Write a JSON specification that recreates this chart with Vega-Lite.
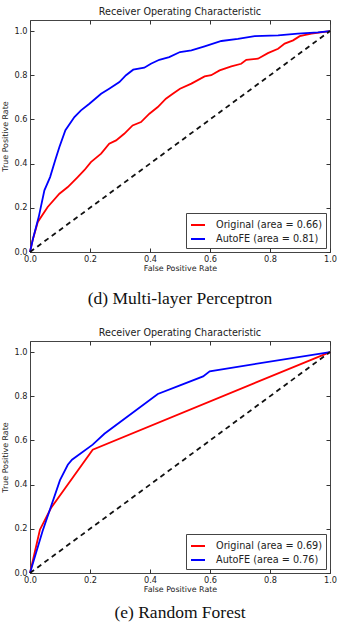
{
  "$schema": "https://vega.github.io/schema/vega-lite/v6.json",
  "background": "white",
  "padding": {"left": 1, "top": 6, "right": 0, "bottom": 0},
  "spacing": 0,
  "config": {
    "font": "DejaVu Sans",
    "view": {"stroke": "#444", "strokeWidth": 1},
    "axis": {
      "grid": false,
      "domain": false,
      "labelFont": "DejaVu Sans",
      "labelFontSize": 8.2,
      "labelColor": "#222",
      "labelFlush": false,
      "labelOverlap": false,
      "labelPadding": 7,
      "tickColor": "#333",
      "tickSize": -4,
      "tickWidth": 1,
      "titleFont": "DejaVu Sans",
      "titleFontSize": 7.9,
      "titleFontWeight": "normal",
      "titleColor": "#222"
    },
    "title": {"font": "DejaVu Sans", "fontSize": 9.6, "fontWeight": "normal", "color": "#222", "offset": 3},
    "legend": {
      "orient": "bottom-right",
      "offset": 4,
      "padding": 4,
      "strokeColor": "#444",
      "fillColor": "white",
      "cornerRadius": 0,
      "labelFont": "DejaVu Sans",
      "labelFontSize": 9.7,
      "labelColor": "#222",
      "labelOffset": 10,
      "symbolType": "stroke",
      "symbolStrokeWidth": 2,
      "symbolSize": 196,
      "rowPadding": 1
    }
  },
  "datasets": {
    "mlp": [
      {"label": "Original (area = 0.66)", "i": 0, "fpr": 0, "tpr": 0},
      {"label": "Original (area = 0.66)", "i": 1, "fpr": 0.008, "tpr": 0.05},
      {"label": "Original (area = 0.66)", "i": 2, "fpr": 0.026, "tpr": 0.136},
      {"label": "Original (area = 0.66)", "i": 3, "fpr": 0.059, "tpr": 0.204},
      {"label": "Original (area = 0.66)", "i": 4, "fpr": 0.098, "tpr": 0.264},
      {"label": "Original (area = 0.66)", "i": 5, "fpr": 0.126, "tpr": 0.294},
      {"label": "Original (area = 0.66)", "i": 6, "fpr": 0.159, "tpr": 0.339},
      {"label": "Original (area = 0.66)", "i": 7, "fpr": 0.181, "tpr": 0.37},
      {"label": "Original (area = 0.66)", "i": 8, "fpr": 0.203, "tpr": 0.407},
      {"label": "Original (area = 0.66)", "i": 9, "fpr": 0.237, "tpr": 0.445},
      {"label": "Original (area = 0.66)", "i": 10, "fpr": 0.264, "tpr": 0.49},
      {"label": "Original (area = 0.66)", "i": 11, "fpr": 0.287, "tpr": 0.505},
      {"label": "Original (area = 0.66)", "i": 12, "fpr": 0.314, "tpr": 0.535},
      {"label": "Original (area = 0.66)", "i": 13, "fpr": 0.342, "tpr": 0.573},
      {"label": "Original (area = 0.66)", "i": 14, "fpr": 0.37, "tpr": 0.588},
      {"label": "Original (area = 0.66)", "i": 15, "fpr": 0.398, "tpr": 0.626},
      {"label": "Original (area = 0.66)", "i": 16, "fpr": 0.426, "tpr": 0.656},
      {"label": "Original (area = 0.66)", "i": 17, "fpr": 0.453, "tpr": 0.694},
      {"label": "Original (area = 0.66)", "i": 18, "fpr": 0.476, "tpr": 0.716},
      {"label": "Original (area = 0.66)", "i": 19, "fpr": 0.5, "tpr": 0.739},
      {"label": "Original (area = 0.66)", "i": 20, "fpr": 0.538, "tpr": 0.762},
      {"label": "Original (area = 0.66)", "i": 21, "fpr": 0.582, "tpr": 0.795},
      {"label": "Original (area = 0.66)", "i": 22, "fpr": 0.604, "tpr": 0.8},
      {"label": "Original (area = 0.66)", "i": 23, "fpr": 0.632, "tpr": 0.822},
      {"label": "Original (area = 0.66)", "i": 24, "fpr": 0.671, "tpr": 0.84},
      {"label": "Original (area = 0.66)", "i": 25, "fpr": 0.704, "tpr": 0.852},
      {"label": "Original (area = 0.66)", "i": 26, "fpr": 0.721, "tpr": 0.87},
      {"label": "Original (area = 0.66)", "i": 27, "fpr": 0.76, "tpr": 0.875},
      {"label": "Original (area = 0.66)", "i": 28, "fpr": 0.793, "tpr": 0.9},
      {"label": "Original (area = 0.66)", "i": 29, "fpr": 0.827, "tpr": 0.92},
      {"label": "Original (area = 0.66)", "i": 30, "fpr": 0.849, "tpr": 0.943},
      {"label": "Original (area = 0.66)", "i": 31, "fpr": 0.877, "tpr": 0.958},
      {"label": "Original (area = 0.66)", "i": 32, "fpr": 0.899, "tpr": 0.977},
      {"label": "Original (area = 0.66)", "i": 33, "fpr": 0.938, "tpr": 0.988},
      {"label": "Original (area = 0.66)", "i": 34, "fpr": 1, "tpr": 1},
      {"label": "AutoFE (area = 0.81)", "i": 0, "fpr": 0, "tpr": 0},
      {"label": "AutoFE (area = 0.81)", "i": 1, "fpr": 0.01, "tpr": 0.06},
      {"label": "AutoFE (area = 0.81)", "i": 2, "fpr": 0.029, "tpr": 0.158},
      {"label": "AutoFE (area = 0.81)", "i": 3, "fpr": 0.048, "tpr": 0.279},
      {"label": "AutoFE (area = 0.81)", "i": 4, "fpr": 0.067, "tpr": 0.339},
      {"label": "AutoFE (area = 0.81)", "i": 5, "fpr": 0.084, "tpr": 0.415},
      {"label": "AutoFE (area = 0.81)", "i": 6, "fpr": 0.098, "tpr": 0.475},
      {"label": "AutoFE (area = 0.81)", "i": 7, "fpr": 0.118, "tpr": 0.551},
      {"label": "AutoFE (area = 0.81)", "i": 8, "fpr": 0.148, "tpr": 0.611},
      {"label": "AutoFE (area = 0.81)", "i": 9, "fpr": 0.17, "tpr": 0.641},
      {"label": "AutoFE (area = 0.81)", "i": 10, "fpr": 0.198, "tpr": 0.671},
      {"label": "AutoFE (area = 0.81)", "i": 11, "fpr": 0.237, "tpr": 0.716},
      {"label": "AutoFE (area = 0.81)", "i": 12, "fpr": 0.264, "tpr": 0.739},
      {"label": "AutoFE (area = 0.81)", "i": 13, "fpr": 0.298, "tpr": 0.769},
      {"label": "AutoFE (area = 0.81)", "i": 14, "fpr": 0.32, "tpr": 0.8},
      {"label": "AutoFE (area = 0.81)", "i": 15, "fpr": 0.344, "tpr": 0.825},
      {"label": "AutoFE (area = 0.81)", "i": 16, "fpr": 0.381, "tpr": 0.834},
      {"label": "AutoFE (area = 0.81)", "i": 17, "fpr": 0.403, "tpr": 0.852},
      {"label": "AutoFE (area = 0.81)", "i": 18, "fpr": 0.431, "tpr": 0.87},
      {"label": "AutoFE (area = 0.81)", "i": 19, "fpr": 0.464, "tpr": 0.882},
      {"label": "AutoFE (area = 0.81)", "i": 20, "fpr": 0.5, "tpr": 0.905},
      {"label": "AutoFE (area = 0.81)", "i": 21, "fpr": 0.538, "tpr": 0.913},
      {"label": "AutoFE (area = 0.81)", "i": 22, "fpr": 0.582, "tpr": 0.931},
      {"label": "AutoFE (area = 0.81)", "i": 23, "fpr": 0.638, "tpr": 0.955},
      {"label": "AutoFE (area = 0.81)", "i": 24, "fpr": 0.693, "tpr": 0.965},
      {"label": "AutoFE (area = 0.81)", "i": 25, "fpr": 0.749, "tpr": 0.977},
      {"label": "AutoFE (area = 0.81)", "i": 26, "fpr": 0.827, "tpr": 0.98},
      {"label": "AutoFE (area = 0.81)", "i": 27, "fpr": 0.893, "tpr": 0.988},
      {"label": "AutoFE (area = 0.81)", "i": 28, "fpr": 0.96, "tpr": 0.994},
      {"label": "AutoFE (area = 0.81)", "i": 29, "fpr": 1, "tpr": 1}
    ],
    "rf": [
      {"label": "Original (area = 0.69)", "i": 0, "fpr": 0, "tpr": 0},
      {"label": "Original (area = 0.69)", "i": 1, "fpr": 0.033, "tpr": 0.196},
      {"label": "Original (area = 0.69)", "i": 2, "fpr": 0.07, "tpr": 0.294},
      {"label": "Original (area = 0.69)", "i": 3, "fpr": 0.209, "tpr": 0.558},
      {"label": "Original (area = 0.69)", "i": 4, "fpr": 1, "tpr": 1},
      {"label": "AutoFE (area = 0.76)", "i": 0, "fpr": 0, "tpr": 0},
      {"label": "AutoFE (area = 0.76)", "i": 1, "fpr": 0.042, "tpr": 0.19},
      {"label": "AutoFE (area = 0.76)", "i": 2, "fpr": 0.1, "tpr": 0.42},
      {"label": "AutoFE (area = 0.76)", "i": 3, "fpr": 0.126, "tpr": 0.49},
      {"label": "AutoFE (area = 0.76)", "i": 4, "fpr": 0.14, "tpr": 0.513},
      {"label": "AutoFE (area = 0.76)", "i": 5, "fpr": 0.209, "tpr": 0.581},
      {"label": "AutoFE (area = 0.76)", "i": 6, "fpr": 0.248, "tpr": 0.63},
      {"label": "AutoFE (area = 0.76)", "i": 7, "fpr": 0.426, "tpr": 0.81},
      {"label": "AutoFE (area = 0.76)", "i": 8, "fpr": 0.5, "tpr": 0.849},
      {"label": "AutoFE (area = 0.76)", "i": 9, "fpr": 0.577, "tpr": 0.89},
      {"label": "AutoFE (area = 0.76)", "i": 10, "fpr": 0.599, "tpr": 0.913},
      {"label": "AutoFE (area = 0.76)", "i": 11, "fpr": 1, "tpr": 1}
    ],
    "chance": [
      {"fpr": 0, "tpr": 0},
      {"fpr": 1, "tpr": 1}
    ]
  },
  "resolve": {"scale": {"color": "independent"}, "legend": {"color": "independent"}},
  "vconcat": [
    {
      "width": 300,
      "height": 232,
      "title": "Receiver Operating Characteristic",
      "layer": [
        {
          "data": {"name": "mlp"},
          "mark": {"type": "line", "strokeWidth": 1.8},
          "encoding": {
            "x": {"field": "fpr", "type": "quantitative", "scale": {"domain": [0, 1], "nice": false},
                  "axis": {"orient": "bottom", "values": [0, 0.2, 0.4, 0.6, 0.8, 1], "format": ".1f", "title": "False Positive Rate", "titlePadding": 2}},
            "y": {"field": "tpr", "type": "quantitative", "scale": {"domain": [0, 1.05], "nice": false},
                  "axis": {"orient": "left", "values": [0, 0.2, 0.4, 0.6, 0.8, 1], "format": ".1f", "title": "True Positive Rate", "titlePadding": 4}},
            "color": {"field": "label", "type": "nominal",
                      "scale": {"domain": ["Original (area = 0.66)", "AutoFE (area = 0.81)"], "range": ["#ff0000", "#0000ff"]},
                      "legend": {"title": null}},
            "order": {"field": "i", "type": "quantitative"}
          }
        },
        {
          "data": {"name": "chance"},
          "mark": {"type": "line", "color": "#111", "strokeWidth": 1.8, "strokeDash": [5, 4]},
          "encoding": {
            "x": {"field": "fpr", "type": "quantitative", "scale": {"domain": [0, 1], "nice": false},
                  "axis": {"orient": "top", "values": [0, 0.2, 0.4, 0.6, 0.8, 1], "labels": false, "title": null}},
            "y": {"field": "tpr", "type": "quantitative", "scale": {"domain": [0, 1.05], "nice": false},
                  "axis": {"orient": "right", "values": [0, 0.2, 0.4, 0.6, 0.8, 1], "labels": false, "title": null}}
          }
        }
      ],
      "resolve": {"axis": {"x": "independent", "y": "independent"}}
    },
    {
      "width": 300,
      "height": 54,
      "view": {"stroke": null},
      "data": {"values": [{"caption": "(d) Multi-layer Perceptron"}]},
      "mark": {"type": "text", "font": "Liberation Serif", "fontSize": 17.5, "color": "#111", "baseline": "middle", "dy": -1},
      "encoding": {"text": {"field": "caption", "type": "nominal"}}
    },
    {
      "width": 300,
      "height": 232,
      "title": "Receiver Operating Characteristic",
      "layer": [
        {
          "data": {"name": "rf"},
          "mark": {"type": "line", "strokeWidth": 1.8},
          "encoding": {
            "x": {"field": "fpr", "type": "quantitative", "scale": {"domain": [0, 1], "nice": false},
                  "axis": {"orient": "bottom", "values": [0, 0.2, 0.4, 0.6, 0.8, 1], "format": ".1f", "title": "False Positive Rate", "titlePadding": 2}},
            "y": {"field": "tpr", "type": "quantitative", "scale": {"domain": [0, 1.05], "nice": false},
                  "axis": {"orient": "left", "values": [0, 0.2, 0.4, 0.6, 0.8, 1], "format": ".1f", "title": "True Positive Rate", "titlePadding": 4}},
            "color": {"field": "label", "type": "nominal",
                      "scale": {"domain": ["Original (area = 0.69)", "AutoFE (area = 0.76)"], "range": ["#ff0000", "#0000ff"]},
                      "legend": {"title": null}},
            "order": {"field": "i", "type": "quantitative"}
          }
        },
        {
          "data": {"name": "chance"},
          "mark": {"type": "line", "color": "#111", "strokeWidth": 1.8, "strokeDash": [5, 4]},
          "encoding": {
            "x": {"field": "fpr", "type": "quantitative", "scale": {"domain": [0, 1], "nice": false},
                  "axis": {"orient": "top", "values": [0, 0.2, 0.4, 0.6, 0.8, 1], "labels": false, "title": null}},
            "y": {"field": "tpr", "type": "quantitative", "scale": {"domain": [0, 1.05], "nice": false},
                  "axis": {"orient": "right", "values": [0, 0.2, 0.4, 0.6, 0.8, 1], "labels": false, "title": null}}
          }
        }
      ],
      "resolve": {"axis": {"x": "independent", "y": "independent"}}
    },
    {
      "width": 300,
      "height": 40,
      "view": {"stroke": null},
      "data": {"values": [{"caption": "(e) Random Forest"}]},
      "mark": {"type": "text", "font": "Liberation Serif", "fontSize": 17.5, "color": "#111", "baseline": "middle", "dy": -1},
      "encoding": {"text": {"field": "caption", "type": "nominal"}}
    }
  ]
}
